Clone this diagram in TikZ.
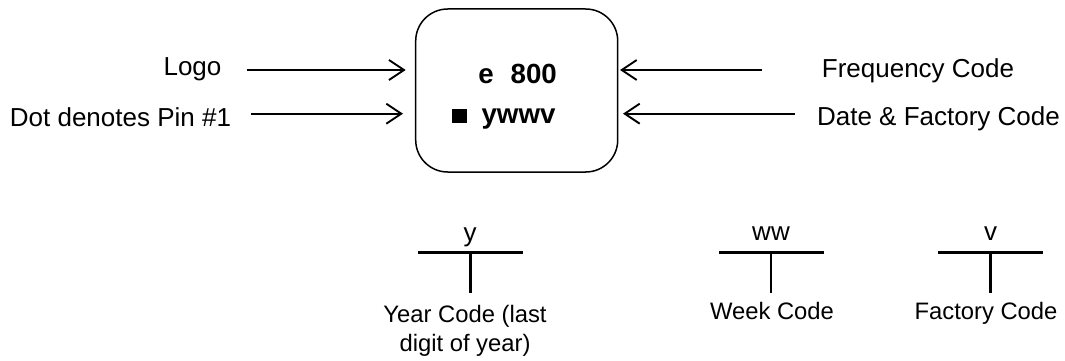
\documentclass[tikz,border=0pt]{standalone}
\usepackage{fontspec}
\setmainfont{Liberation Sans}
\usetikzlibrary{arrows.meta}
\tikzset{
 lbl/.style={inner sep=0pt,font=\fontsize{26}{29}\selectfont,anchor=base},
 small/.style={inner sep=0pt,font=\fontsize{23.8}{27}\selectfont,anchor=base},
 chipmark/.style={inner sep=0pt,font=\bfseries\fontsize{27.7}{30}\selectfont,anchor=base},
 conn/.style={line width=1.9pt,-{Straight Barb[length=15pt,width=20pt,line width=1.9pt]}},
 tee/.style={line width=2.9pt},
}
\begin{document}
\begin{tikzpicture}[x=1pt,y=-1pt]
\useasboundingbox (0,0) rectangle (1065,361);
\node[draw,line width=1.5pt,rounded corners=32,minimum width=202,minimum height=163,inner sep=0pt] (chip) at (516.7,90.5) {};
\node[lbl] (logo) at (192.5,75.7) {Logo};
\node[lbl] (dot) at (120.5,126.7) {Dot denotes Pin \#1};
\node[lbl] (freq) at (918,77.3) {Frequency Code};
\node[lbl] (date) at (938.5,125) {Date \& Factory Code};
\node[chipmark] (e) at (486,83) {e};
\node[chipmark] (n800) at (533.7,83) {800};
\node[fill=black,minimum width=15,minimum height=14,inner sep=0pt] (sq) at (459.3,116) {};
\node[chipmark] (yw) at (518.5,123) {ywwv};
\coordinate (a1s) at (247,70); \coordinate (a1e) at (405.7,70);
\coordinate (a2s) at (251,113.7); \coordinate (a2e) at (403,113.7);
\coordinate (a3s) at (762,70); \coordinate (a3e) at (620,70);
\coordinate (a4s) at (795,113.7); \coordinate (a4e) at (623,113.7);
\draw[conn] (a1s) -- (a1e);
\draw[conn] (a2s) -- (a2e);
\draw[conn] (a3s) -- (a3e);
\draw[conn] (a4s) -- (a4e);
\node[lbl] (y) at (470,241) {y};
\node[lbl] (ww) at (771,240) {ww};
\node[lbl] (v) at (990.5,240) {v};
\coordinate (t1a) at (418,252.3); \coordinate (t1b) at (523,252.3); \coordinate (t1c) at (470.3,252.3); \coordinate (t1d) at (470.3,292.5);
\coordinate (t2a) at (719,252.3); \coordinate (t2b) at (824,252.3); \coordinate (t2c) at (771,252.3); \coordinate (t2d) at (771,292.5);
\coordinate (t3a) at (938.3,252.3); \coordinate (t3b) at (1043,252.3); \coordinate (t3c) at (990.3,252.3); \coordinate (t3d) at (990.3,292.5);
\draw[tee] (t1a) -- (t1b); \draw[tee] (t1c) -- (t1d);
\draw[tee] (t2a) -- (t2b); \draw[tee] (t2c) -- (t2d);
\draw[tee] (t3a) -- (t3b); \draw[tee] (t3c) -- (t3d);
\node[small] (yc1) at (465,322.7) {Year Code (last};
\node[small] (yc2) at (465,351.7) {digit of year)};
\node[small] (wc) at (772,319.3) {Week Code};
\node[small] (fc) at (986,319.3) {Factory Code};
\end{tikzpicture}
\end{document}
